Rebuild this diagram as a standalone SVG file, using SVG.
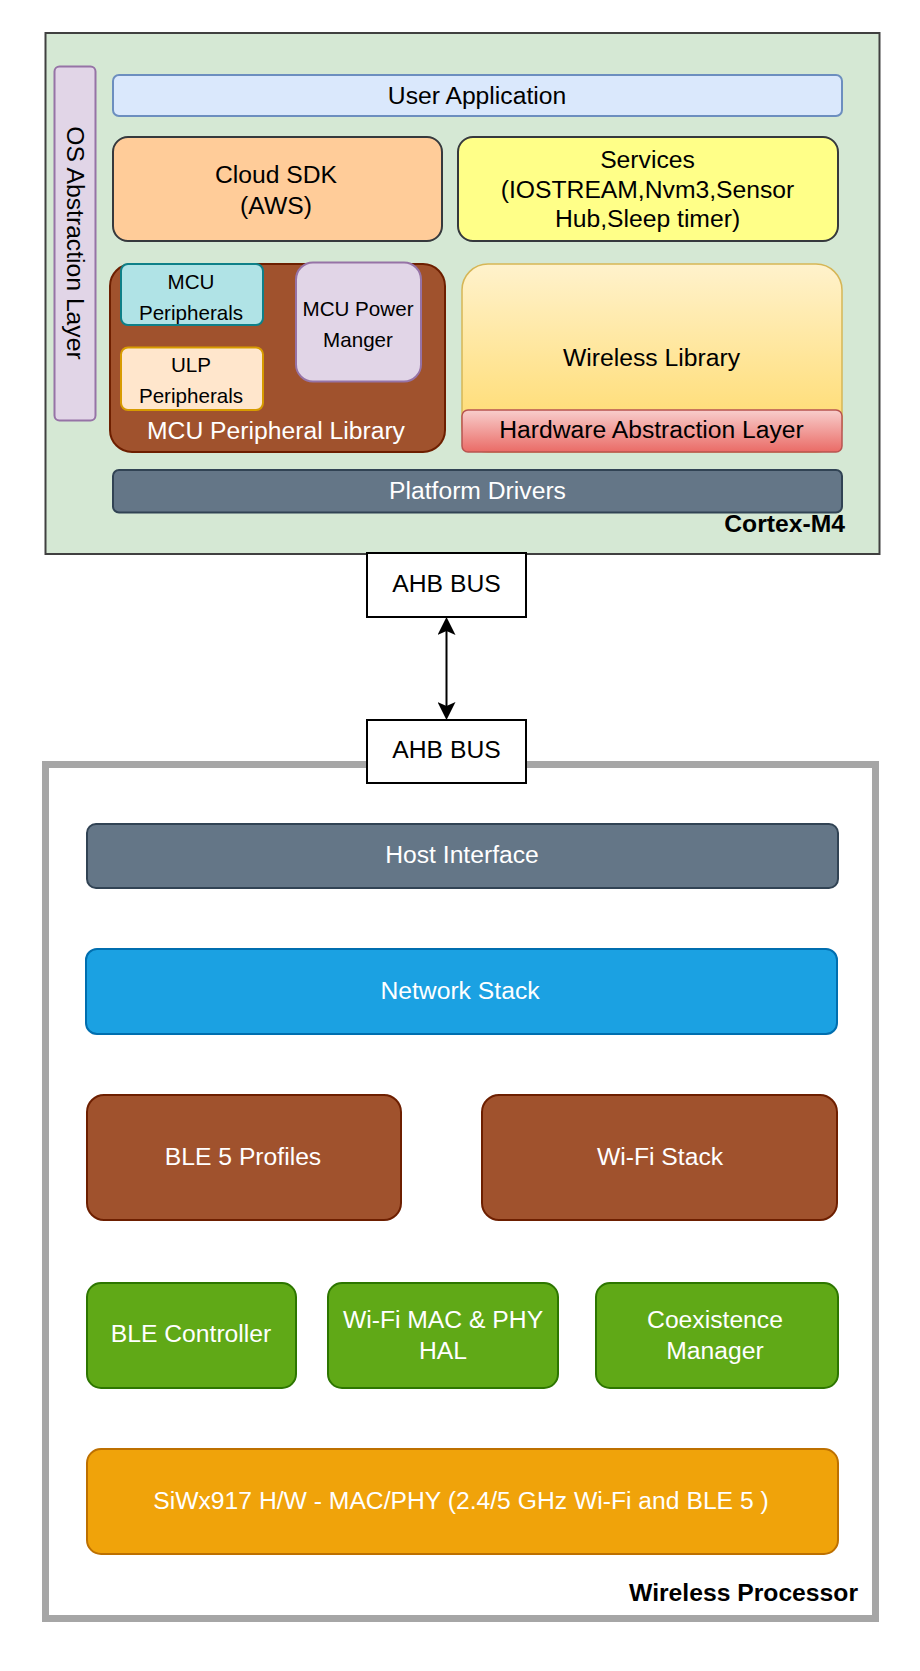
<svg xmlns="http://www.w3.org/2000/svg" width="920" height="1671" viewBox="0 0 920 1671">
<style>
text{font-family:"Liberation Sans",Arial,Helvetica,sans-serif;font-size:24.7px;text-anchor:middle;fill:#000}
.w{fill:#fff}
.s{font-size:20.6px}
.b{font-weight:bold;text-anchor:end}
.conn{stroke:#000;stroke-width:2;fill:none}
</style>
<defs>
<linearGradient id="gWL" x1="0" y1="0" x2="0" y2="1"><stop offset="0" stop-color="#fff2cc"/><stop offset="1" stop-color="#ffd966"/></linearGradient>
<linearGradient id="gHAL" x1="0" y1="0" x2="0" y2="1"><stop offset="0" stop-color="#f8cecc"/><stop offset="1" stop-color="#ea6b66"/></linearGradient>
<marker id="arr" viewBox="0 0 18 18" refX="14" refY="9" markerWidth="18" markerHeight="18" markerUnits="userSpaceOnUse" orient="auto-start-reverse"><path d="M0,0 L18,9 L0,18 L4,9 z" fill="#000"/></marker>
</defs>
<rect width="920" height="1671" fill="#fff"/>

<g id="cortex-m4">
<rect x="45.5" y="33" width="834" height="521" fill="#d5e8d4" stroke="#404040" stroke-width="2"/>
<text class="b" x="845" y="532">Cortex-M4</text>
</g>
<g id="os-abstraction">
<rect x="54.5" y="66.5" width="41" height="354" rx="5" fill="#e1d5e7" stroke="#9673a6" stroke-width="2"/>
<text transform="translate(67,243) rotate(90)">OS Abstraction Layer</text>
</g>
<g id="user-application">
<rect x="113" y="75" width="729" height="41" rx="6" fill="#dae8fc" stroke="#6c8ebf" stroke-width="2"/>
<text x="477" y="103.5">User Application</text>
</g>
<g id="cloud-sdk">
<rect x="113" y="137" width="329" height="104" rx="15" fill="#ffcc99" stroke="#36393d" stroke-width="2"/>
<text x="276" y="182.5">Cloud SDK</text>
<text x="276" y="213.5">(AWS)</text>
</g>
<g id="services">
<rect x="458" y="137" width="380" height="104" rx="15" fill="#ffff88" stroke="#36393d" stroke-width="2"/>
<text x="647.5" y="168">Services</text>
<text x="647.5" y="197.5">(IOSTREAM,Nvm3,Sensor</text>
<text x="647.5" y="227">Hub,Sleep timer)</text>
</g>
<g id="mcu-peripheral-library">
<rect x="110" y="264" width="335" height="188" rx="22" fill="#a0522d" stroke="#6d1f00" stroke-width="2"/>
<text class="w" x="276" y="439">MCU Peripheral Library</text>
</g>
<g id="mcu-peripherals">
<rect x="121" y="264" width="142" height="61" rx="7" fill="#b0e3e6" stroke="#0e8088" stroke-width="2"/>
<text class="s" x="191" y="288.5">MCU</text>
<text class="s" x="191" y="319.5">Peripherals</text>
</g>
<g id="ulp-peripherals">
<rect x="121" y="347.5" width="142" height="62.5" rx="7" fill="#ffe6cc" stroke="#d79b00" stroke-width="2"/>
<text class="s" x="191" y="371.5">ULP</text>
<text class="s" x="191" y="402.5">Peripherals</text>
</g>
<g id="mcu-power-manger">
<rect x="296" y="262.5" width="125" height="119" rx="17" fill="#e1d5e7" stroke="#9673a6" stroke-width="2"/>
<text class="s" x="358" y="316">MCU Power</text>
<text class="s" x="358" y="347">Manger</text>
</g>
<g id="wireless-library">
<rect x="462" y="264" width="380" height="188" rx="26" fill="url(#gWL)" stroke="#d6b656" stroke-width="1.5"/>
<text x="651.5" y="366">Wireless Library</text>
</g>
<g id="hardware-abstraction-layer">
<rect x="462" y="410" width="380" height="42" rx="6" fill="url(#gHAL)" stroke="#b85450" stroke-width="1.5"/>
<text x="651.5" y="438">Hardware Abstraction Layer</text>
</g>
<g id="platform-drivers">
<rect x="113" y="470" width="729" height="42.5" rx="6" fill="#647687" stroke="#314354" stroke-width="2"/>
<text class="w" x="477.5" y="498.5">Platform Drivers</text>
</g>

<g id="wireless-processor">
<rect x="45.5" y="764.5" width="830" height="854" fill="#fff" stroke="#a6a6a6" stroke-width="7"/>
<text class="b" x="858" y="1601">Wireless Processor</text>
</g>
<g id="ahb-bus-top">
<rect x="367" y="553" width="159" height="64" fill="#fff" stroke="#000" stroke-width="2"/>
<text x="446.5" y="592">AHB BUS</text>
</g>
<g id="ahb-bus-bottom">
<rect x="367" y="720" width="159" height="63" fill="#fff" stroke="#000" stroke-width="2"/>
<text x="446.5" y="758">AHB BUS</text>
</g>
<g id="host-interface">
<rect x="87" y="824" width="751" height="64" rx="9" fill="#647687" stroke="#314354" stroke-width="2"/>
<text class="w" x="462" y="863">Host Interface</text>
</g>
<g id="network-stack">
<rect x="86" y="949" width="751" height="85" rx="11" fill="#1ba1e2" stroke="#006eaf" stroke-width="2"/>
<text class="w" x="460" y="999">Network Stack</text>
</g>
<g id="ble5-profiles">
<rect x="87" y="1095" width="314" height="125" rx="17" fill="#a0522d" stroke="#6d1f00" stroke-width="2"/>
<text class="w" x="243" y="1165">BLE 5 Profiles</text>
</g>
<g id="wifi-stack">
<rect x="482" y="1095" width="355" height="125" rx="17" fill="#a0522d" stroke="#6d1f00" stroke-width="2"/>
<text class="w" x="660" y="1165">Wi-Fi Stack</text>
</g>
<g id="ble-controller">
<rect x="87" y="1283" width="209" height="105" rx="14" fill="#60a917" stroke="#2d7600" stroke-width="2"/>
<text class="w" x="191" y="1342">BLE Controller</text>
</g>
<g id="wifi-mac-phy-hal">
<rect x="328" y="1283" width="230" height="105" rx="14" fill="#60a917" stroke="#2d7600" stroke-width="2"/>
<text class="w" x="443" y="1328">Wi-Fi MAC &amp; PHY</text>
<text class="w" x="443" y="1359">HAL</text>
</g>
<g id="coexistence-manager">
<rect x="596" y="1283" width="242" height="105" rx="14" fill="#60a917" stroke="#2d7600" stroke-width="2"/>
<text class="w" x="715" y="1328">Coexistence</text>
<text class="w" x="715" y="1359">Manager</text>
</g>
<g id="siwx917-hw">
<rect x="87" y="1449" width="751" height="105" rx="14" fill="#f0a30a" stroke="#bd7000" stroke-width="2"/>
<text class="w" x="461" y="1509">SiWx917 H/W - MAC/PHY (2.4/5 GHz Wi-Fi and BLE 5 )</text>
</g>

<g id="connectors">
<line class="conn" x1="446.5" y1="621" x2="446.5" y2="716" marker-start="url(#arr)" marker-end="url(#arr)"/>
</g>
</svg>
